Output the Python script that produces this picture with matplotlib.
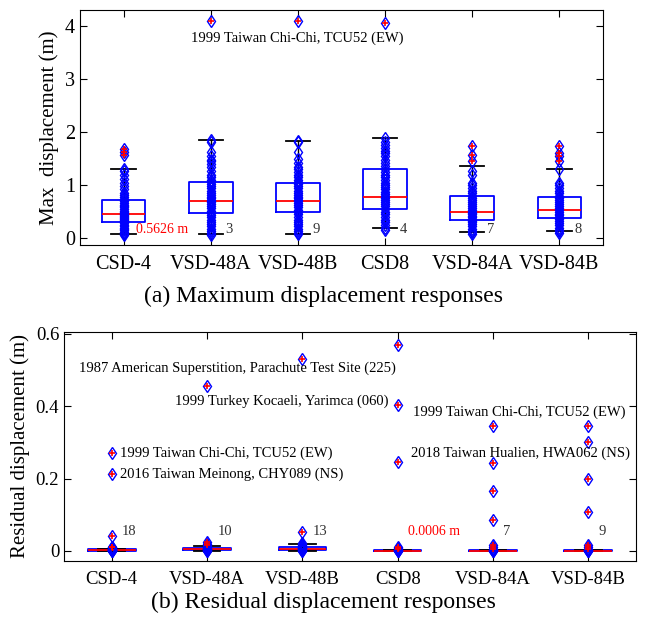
import numpy as np
import matplotlib.pyplot as plt

plt.rcParams["font.family"] = ["Liberation Serif", "DejaVu Serif"]
plt.rcParams["xtick.direction"] = "in"
plt.rcParams["ytick.direction"] = "in"

groups = ["CSD-4", "VSD-48A", "VSD-48B", "CSD8", "VSD-84A", "VSD-84B"]

# ---- (a) maximum displacement, m ----
max_pts = [
    [0.05, 0.08, 0.10, 0.12, 0.15, 0.18, 0.20, 0.22, 0.25, 0.28, 0.30, 0.32, 0.34, 0.36,
     0.38, 0.40, 0.42, 0.44, 0.45, 0.47, 0.50, 0.52, 0.55, 0.58, 0.60, 0.63, 0.66, 0.70,
     0.74, 0.78, 0.82, 0.86, 0.92, 0.98, 1.05, 1.12, 1.20, 1.26, 1.30, 1.58, 1.62, 1.68],
    [0.06, 0.10, 0.14, 0.18, 0.22, 0.26, 0.30, 0.35, 0.40, 0.44, 0.48, 0.52, 0.56, 0.60,
     0.64, 0.68, 0.70, 0.72, 0.75, 0.78, 0.82, 0.86, 0.90, 0.94, 0.98, 1.02, 1.06, 1.10,
     1.15, 1.20, 1.26, 1.35, 1.40, 1.45, 1.48, 1.55, 1.63, 1.82, 1.85, 4.10],
    [0.07, 0.10, 0.14, 0.18, 0.22, 0.26, 0.30, 0.35, 0.40, 0.45, 0.50, 0.54, 0.58, 0.62,
     0.66, 0.70, 0.72, 0.75, 0.78, 0.82, 0.86, 0.90, 0.94, 0.98, 1.02, 1.06, 1.10, 1.15,
     1.20, 1.25, 1.30, 1.35, 1.42, 1.50, 1.62, 1.82, 1.84, 4.10],
    [0.15, 0.20, 0.25, 0.30, 0.35, 0.40, 0.45, 0.50, 0.55, 0.60, 0.64, 0.68, 0.72, 0.76,
     0.80, 0.84, 0.88, 0.92, 0.96, 1.00, 1.05, 1.10, 1.15, 1.20, 1.25, 1.30, 1.36, 1.42,
     1.48, 1.55, 1.60, 1.65, 1.70, 1.76, 1.82, 1.90, 4.06],
    [0.08, 0.11, 0.14, 0.18, 0.22, 0.26, 0.30, 0.33, 0.36, 0.39, 0.42, 0.45, 0.48, 0.50,
     0.53, 0.56, 0.60, 0.64, 0.68, 0.72, 0.76, 0.80, 0.85, 0.90, 0.95, 1.00, 1.05, 1.20,
     1.27, 1.46, 1.58, 1.74],
    [0.10, 0.13, 0.16, 0.20, 0.24, 0.28, 0.32, 0.36, 0.40, 0.43, 0.46, 0.50, 0.53, 0.56,
     0.60, 0.64, 0.68, 0.72, 0.76, 0.80, 0.85, 0.90, 0.95, 1.00, 1.05, 1.30, 1.45, 1.55,
     1.60, 1.74],
]
max_outliers = [[1.58, 1.62, 1.68], [4.10], [4.10], [4.06], [1.46, 1.58, 1.74],
                [1.45, 1.55, 1.60, 1.74]]
max_whislo = [0.07, 0.07, 0.07, 0.19, 0.12, 0.14]
max_q1 = [0.31, 0.47, 0.49, 0.55, 0.35, 0.38]
max_med = [0.45, 0.70, 0.71, 0.775, 0.50, 0.535]
max_q3 = [0.72, 1.06, 1.05, 1.30, 0.79, 0.77]
max_whishi = [1.30, 1.85, 1.83, 1.90, 1.36, 1.30]
max_counts = ["", "3", "9", "4", "7", "8"]

# ---- (b) residual displacement, m ----
res_pts = [
    [0.0, 0.0005, 0.001, 0.0015, 0.002, 0.002, 0.003, 0.003, 0.004, 0.005, 0.006, 0.008,
     0.010, 0.012, 0.040, 0.213, 0.271],
    [0.0, 0.001, 0.002, 0.003, 0.004, 0.005, 0.006, 0.008, 0.010, 0.012, 0.014, 0.017,
     0.020, 0.024, 0.456],
    [0.0, 0.001, 0.002, 0.003, 0.004, 0.005, 0.007, 0.009, 0.011, 0.013, 0.016, 0.019,
     0.022, 0.053, 0.531],
    [0.0, 0.0005, 0.001, 0.002, 0.003, 0.005, 0.008, 0.012, 0.245, 0.404, 0.570],
    [0.0, 0.0005, 0.001, 0.002, 0.003, 0.005, 0.010, 0.015, 0.085, 0.165, 0.244, 0.345],
    [0.0, 0.0005, 0.001, 0.002, 0.003, 0.005, 0.010, 0.015, 0.107, 0.200, 0.300, 0.345],
]
res_outliers = [[0.010, 0.012, 0.040, 0.213, 0.271], [0.017, 0.020, 0.024, 0.456],
                [0.053, 0.531], [0.005, 0.008, 0.012, 0.245, 0.404, 0.570],
                [0.005, 0.010, 0.015, 0.085, 0.165, 0.244, 0.345],
                [0.005, 0.010, 0.015, 0.107, 0.200, 0.300, 0.345]]
res_whislo = [0.0, 0.0, 0.0, 0.0, 0.0, 0.0]
res_q1 = [0.001, 0.002, 0.002, 0.0002, 0.0002, 0.0002]
res_med = [0.003, 0.004, 0.005, 0.0006, 0.0006, 0.0006]
res_q3 = [0.004, 0.009, 0.011, 0.0015, 0.0015, 0.0015]
res_whishi = [0.006, 0.014, 0.018, 0.003, 0.003, 0.003]
res_counts = ["18", "10", "13", "", "7", "9"]


def draw_panel(ax, pts, outl, lo, q1, med, q3, hi, fs):
    pos = np.arange(1, len(groups) + 1)
    stats = [dict(whislo=lo[i], q1=q1[i], med=med[i], q3=q3[i], whishi=hi[i], fliers=[])
             for i in range(len(groups))]
    ax.bxp(stats, positions=pos, widths=0.5, capwidths=0.28, showfliers=False,
           boxprops=dict(color="blue", lw=1.3),
           medianprops=dict(color="red", lw=1.3),
           whiskerprops=dict(color="black", lw=1.0),
           capprops=dict(color="black", lw=1.3), zorder=2)
    for i in range(len(groups)):
        ax.plot(np.full(len(pts[i]), pos[i]), pts[i], "d", mfc="none", mec="blue",
                ms=6.5, mew=1.0, zorder=3)
        ax.plot(np.full(len(outl[i]), pos[i]), outl[i], "+", color="red",
                ms=5, mew=1.2, zorder=4)
    ax.set_xticks(pos)
    ax.set_xticklabels(groups)
    ax.set_xlim(0.5, 6.5)
    ax.tick_params(axis="both", which="both", top=True, right=True, length=5, labelsize=fs)
    ax.tick_params(axis="x", pad=7)


fig = plt.figure(figsize=(6.46, 6.26), dpi=100)

ax1 = fig.add_axes([0.1238, 0.6086, 0.8096, 0.3754])
draw_panel(ax1, max_pts, max_outliers, max_whislo, max_q1, max_med, max_q3, max_whishi, 14.5)
ax1.set_ylim(-0.13, 4.31)
ax1.set_yticks([0, 1, 2, 3, 4])
ax1.set_ylabel("Max  displacement (m)", fontsize=15)
ax1.text(1.778, 3.775, "1999 Taiwan Chi-Chi, TCU52 (EW)", fontsize=10.5, va="center")
for i, c in enumerate(max_counts):
    if c:
        ax1.text(i + 1.17, 0.165, c, fontsize=10.5, va="center", color="#333333")
ax1.text(1.437, 0.165, "0.5626 m", fontsize=10, va="center", ha="center", color="red")

ax2 = fig.add_axes([0.0991, 0.1038, 0.8854, 0.3663])
draw_panel(ax2, res_pts, res_outliers, res_whislo, res_q1, res_med, res_q3, res_whishi, 13.5)
ax2.set_ylim(-0.028, 0.606)
ax2.set_yticks([0, 0.2, 0.4, 0.6])
ax2.set_yticklabels(["0", "0.2", "0.4", "0.6"])
ax2.set_ylabel("Residual displacement (m)", fontsize=15)
for i, c in enumerate(res_counts):
    if c:
        ax2.text(i + 1.11, 0.055, c, fontsize=10.5, va="center", color="#333333")
ax2.text(4.383, 0.055, "0.0006 m", fontsize=10, va="center", ha="center", color="red")
ax2.text(0.661, 0.505, "1987 American Superstition, Parachute Test Site (225)",
         fontsize=10.5, va="center")
ax2.text(1.668, 0.415, "1999 Turkey Kocaeli, Yarimca (060)", fontsize=10.5, va="center")
ax2.text(1.091, 0.271, "1999 Taiwan Chi-Chi, TCU52 (EW)", fontsize=10.5, va="center")
ax2.text(1.091, 0.213, "2016 Taiwan Meinong, CHY089 (NS)", fontsize=10.5, va="center")
ax2.text(4.159, 0.383, "1999 Taiwan Chi-Chi, TCU52 (EW)", fontsize=10.5, va="center")
ax2.text(4.138, 0.271, "2018 Taiwan Hualien, HWA062 (NS)", fontsize=10.5, va="center")

fig.text(0.5, 0.527, "(a) Maximum displacement responses", fontsize=17, ha="center", va="center")
fig.text(0.5, 0.038, "(b) Residual displacement responses", fontsize=17, ha="center", va="center")

fig.savefig("out.png", dpi=100)
